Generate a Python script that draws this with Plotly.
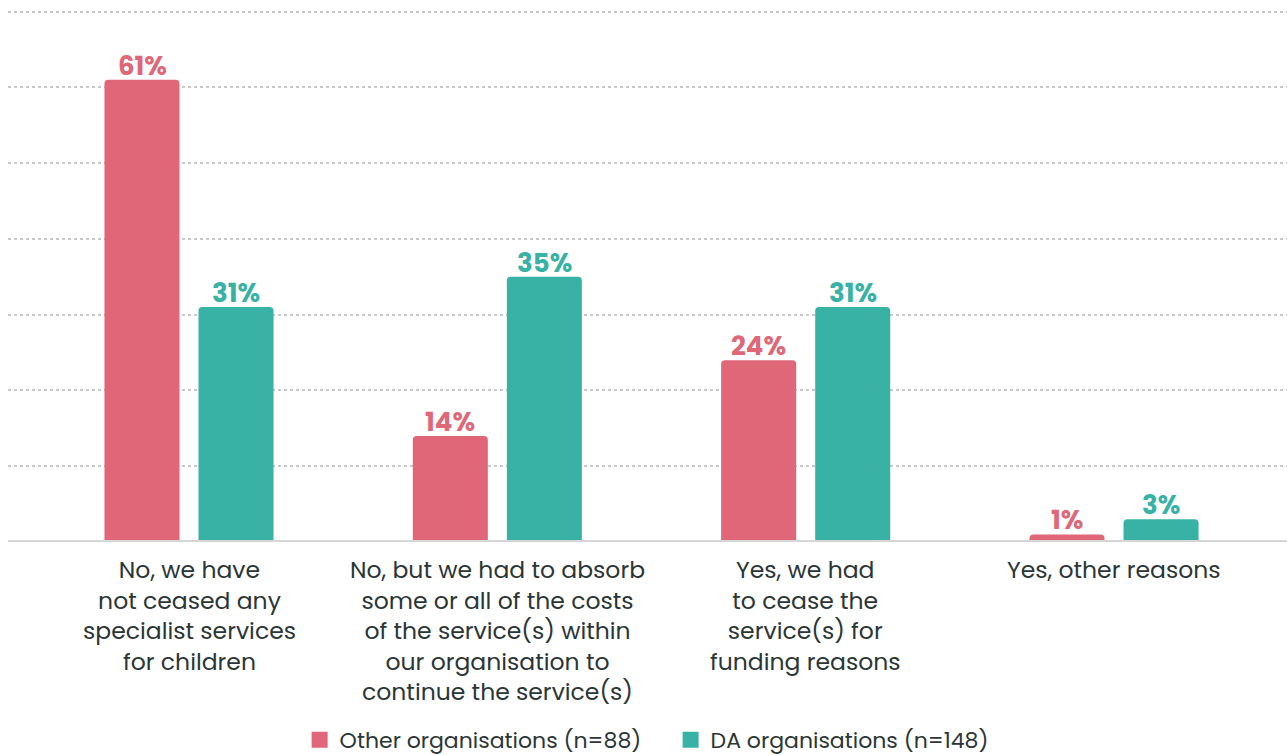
import plotly.graph_objects as go

categories = [
    "No, we have<br>not ceased any<br>specialist services<br>for children",
    "No, but we had to absorb<br>some or all of the costs<br>of the service(s) within<br>our organisation to<br>continue the service(s)",
    "Yes, we had<br>to cease the<br>service(s) for<br>funding reasons",
    "Yes, other reasons",
]
other_orgs = [61, 14, 24, 1]
da_orgs = [31, 35, 31, 3]
series_names = ["Other organisations (n=88)", "DA organisations (n=148)"]

PINK = "#E06777"
TEAL = "#38B2A5"
TEXT = "#2B3636"
FONT = "Poppins, Inter, sans-serif"

x_idx = list(range(len(categories)))
series = [(series_names[0], other_orgs, PINK, -47), (series_names[1], da_orgs, TEAL, 47)]

fig = go.Figure()
annotations = []
for name, vals, col, dx in series:
    fig.add_trace(go.Bar(
        x=x_idx, y=vals, name=name, showlegend=False,
        marker=dict(color=col, cornerradius=4, line=dict(width=0)),
    ))
    # value labels sitting just above each bar
    for i, v in zip(x_idx, vals):
        annotations.append(dict(
            x=i, y=v, xref="x", yref="y", text=f"{v}%", showarrow=False,
            xanchor="center", yanchor="bottom", xshift=dx, yshift=-6,
            font=dict(family=FONT, size=26, color=col, weight="bold"),
        ))

# legend entries with larger square swatches
for name, col in [(series_names[0], PINK), (series_names[1], TEAL)]:
    fig.add_trace(go.Scatter(
        x=[None], y=[None], mode="markers", name=name,
        marker=dict(symbol="square", size=22, color=col),
    ))

# category labels hanging below the baseline
annotations += [
    dict(
        x=i, y=0, xref="x", yref="y", text=label, showarrow=False,
        xanchor="center", yanchor="top", yshift=-9, align="center",
        font=dict(family=FONT, size=23.5, color=TEXT),
    )
    for i, label in enumerate(categories)
]

fig.update_layout(
    width=1287, height=755,
    margin=dict(l=8, r=0, t=4, b=213, autoexpand=False),
    paper_bgcolor="white", plot_bgcolor="white",
    barmode="group", bargap=0.39, bargroupgap=0.202,
    font=dict(family=FONT, color=TEXT),
    showlegend=True,
    legend=dict(
        orientation="h", x=0.228, xanchor="left", y=-0.368, yanchor="middle",
        font=dict(family=FONT, size=22, color=TEXT),
        itemwidth=30, traceorder="normal", itemsizing="trace",
        entrywidth=326, entrywidthmode="pixels",
    ),
    xaxis=dict(
        range=[-0.587, 3.561], automargin=False,
        tickmode="array", tickvals=x_idx, ticktext=[""] * len(x_idx),
        showgrid=False, zeroline=False, showline=False, ticks="",
    ),
    yaxis=dict(
        range=[0, 71], dtick=10, automargin=False,
        showticklabels=False, showgrid=True,
        gridcolor="#C9C9C9", gridwidth=2, griddash="dot",
        zeroline=False, showline=False, ticks="",
    ),
    annotations=annotations,
    shapes=[dict(
        type="line", xref="paper", yref="y", x0=0, x1=1, y0=0, y1=0,
        line=dict(color="#D6D6D6", width=4), layer="above",
    )],
)

fig.write_html("out.html")
